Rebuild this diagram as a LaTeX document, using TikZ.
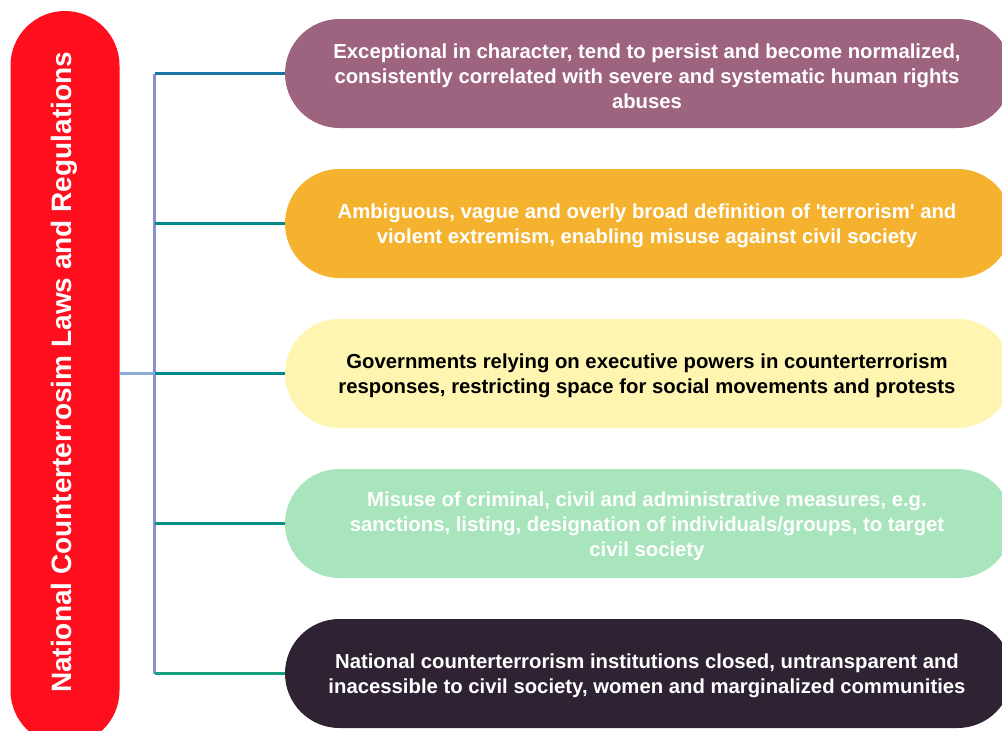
\documentclass[tikz,border=0pt]{standalone}
\usepackage{fontspec}
\setmainfont{Liberation Sans}
\definecolor{cred}{HTML}{FF0F1E}
\definecolor{cpurple}{HTML}{9E637F}
\definecolor{corange}{HTML}{F5B22E}
\definecolor{cyellow}{HTML}{FDF5B0}
\definecolor{cgreen}{HTML}{A8E4BC}
\definecolor{cdark}{HTML}{2E2233}
\definecolor{lspine}{HTML}{8A90C8}
\definecolor{lhub}{HTML}{8AAAD8}
\definecolor{lone}{HTML}{1A75A5}
\definecolor{lteal}{HTML}{00888A}
\definecolor{lteal2}{HTML}{0A9082}
\definecolor{lgreen}{HTML}{14A07E}
\tikzset{
  pill/.style={rectangle, rounded corners=54.5pt, minimum width=727pt, minimum height=109pt, inner sep=0pt},
  pilltext/.style={inner sep=0pt, align=center, font=\fontsize{20.3}{25}\selectfont\bfseries},
  link/.style={line width=3pt}
}
\begin{document}
\begin{tikzpicture}[x=1pt,y=-1pt]
\useasboundingbox (0,0) rectangle (1002,731);
\clip (0,0) rectangle (1002,731);
\node[rectangle, rounded corners=54.5pt, fill=cred, minimum width=109pt, minimum height=734pt, inner sep=0pt] (main) at (65,378) {};
\node[rotate=90, text=white, font=\fontsize{28}{32}\selectfont\bfseries] (maintext) at (64,372.5) {National Counterterrosim Laws and Regulations};
\node[pill, fill=cpurple] (p1) at (648.5,73.5) {};
\node[pill, fill=corange] (p2) at (648.5,223.5) {};
\node[pill, fill=cyellow] (p3) at (648.5,373.5) {};
\node[pill, fill=cgreen] (p4) at (648.5,523.5) {};
\node[pill, fill=cdark] (p5) at (648.5,673.5) {};
\node[pilltext, text=white] (t1) at (647,76) {Exceptional in character, tend to persist and become normalized,\\consistently correlated with severe and systematic human rights\\abuses};
\node[pilltext, text=white] (t2) at (647,226) {Ambiguous, vague and overly broad definition of \textquotesingle terrorism\textquotesingle{} and\\violent extremism, enabling misuse against civil society};
\node[pilltext, text=black] (t3) at (647,375.5) {Governments relying on executive powers in counterterrorism\\responses, restricting space for social movements and protests};
\node[pilltext, text=white] (t4) at (647,526) {Misuse of criminal, civil and administrative measures, e.g.\\sanctions, listing, designation of individuals/groups, to target\\civil society};
\node[pilltext, text=white] (t5) at (647,676) {National counterterrorism institutions closed, untransparent and\\inacessible to civil society, women and marginalized communities};
\coordinate (s1) at (154.5,73.5);
\coordinate (s2) at (154.5,223.5);
\coordinate (s3) at (154.5,373.5);
\coordinate (s4) at (154.5,523.5);
\coordinate (s5) at (154.5,673.5);
\draw[link, lspine] (s1) -- (s5);
\draw[link, lhub] (main.east |- s3) -- (s3);
\draw[link, lone] (s1) -- (p1.west);
\draw[link, lteal] (s2) -- (p2.west);
\draw[link, lteal] (s3) -- (p3.west);
\draw[link, lteal2] (s4) -- (p4.west);
\draw[link, lgreen] (s5) -- (p5.west);
\end{tikzpicture}
\end{document}
